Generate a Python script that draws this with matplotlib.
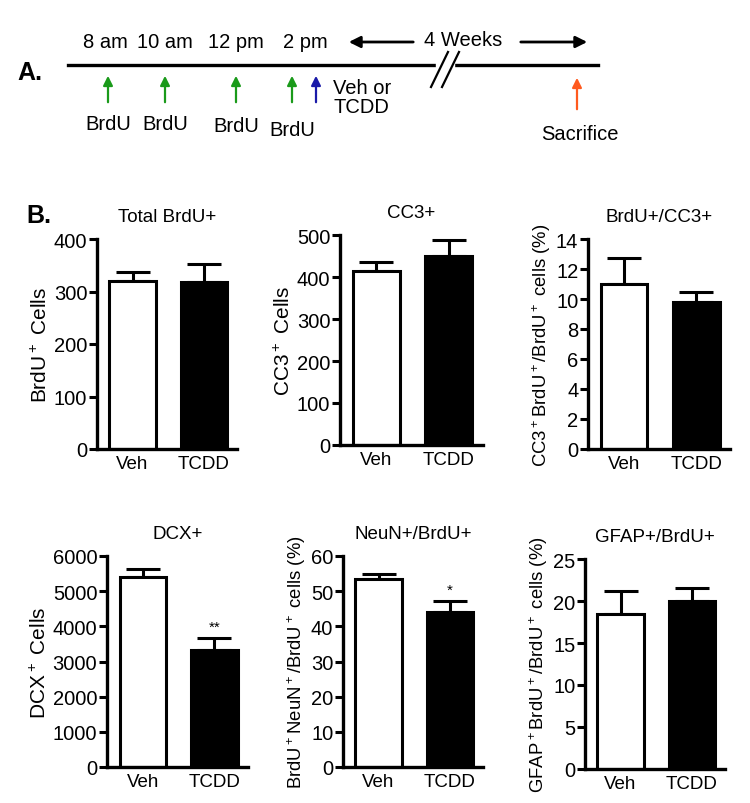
import matplotlib
matplotlib.use('Agg')
import matplotlib.pyplot as plt

plt.rcParams['font.family'] = ['Liberation Sans', 'DejaVu Sans']
plt.rcParams['mathtext.default'] = 'regular'

W, H = 750, 804

# ---- data ----
groups = ['Veh', 'TCDD']

titles = ['Total BrdU+', 'CC3+', 'BrdU+/CC3+', 'DCX+', 'NeuN+/BrdU+', 'GFAP+/BrdU+']
ylabels = [r'BrdU$^+$ Cells',
           r'CC3$^+$ Cells',
           r'CC3$^+$BrdU$^+$/BrdU$^+$ cells (%)',
           r'DCX$^+$ Cells',
           r'BrdU$^+$NeuN$^+$/BrdU$^+$ cells (%)',
           r'GFAP$^+$BrdU$^+$/BrdU$^+$ cells (%)']
means = [[320, 319], [414, 450], [11.0, 9.8], [5400, 3320], [53.5, 44.0], [18.4, 20.0]]
sems = [[18, 34], [22, 38], [1.75, 0.65], [230, 340], [1.5, 3.2], [2.8, 1.6]]
ymax = [400, 500, 14, 6000, 60, 25]
ystep = [100, 100, 2, 1000, 10, 5]
stars = [['', ''], ['', ''], ['', ''], ['', '**'], ['', '*'], ['', '']]

# timeline schematic
times = ['8 am', '10 am', '12 pm', '2 pm']
brdu_x = [108, 165, 236, 292]

# axes boxes in pixels: left, top(ymax), right, bottom(0)
boxes = [(97, 240, 237, 450), (340, 236, 483, 446), (588, 240, 730, 450),
         (107, 557, 248, 768), (343, 557, 483, 768), (585, 560, 725, 770)]

fig = plt.figure(figsize=(W / 100, H / 100), dpi=100)

# ---- panel A ----
ax0 = fig.add_axes([0, 0, 1, 1])
ax0.set_xlim(0, W)
ax0.set_ylim(H, 0)
ax0.axis('off')

ax0.text(17, 73, 'A.', fontsize=18, fontweight='bold', va='center')
ax0.plot([68, 598], [66, 66], color='black', lw=2.4)
for x, t in zip([105, 165, 236, 305], times):
    ax0.text(x, 43, t, fontsize=14.5, ha='center', va='center')
ax0.annotate('', xy=(346, 43), xytext=(416, 43),
             arrowprops=dict(arrowstyle='-|>', color='black', lw=2, mutation_scale=17))
ax0.text(463, 41, '4 Weeks', fontsize=14.5, ha='center', va='center')
ax0.annotate('', xy=(590, 43), xytext=(518, 43),
             arrowprops=dict(arrowstyle='-|>', color='black', lw=2, mutation_scale=17))
# break marks
ax0.fill_between([436, 454], [66 - 3, 66 - 3], [66 + 3, 66 + 3], color='white', zorder=3)
ax0.plot([431, 448], [88, 53], color='black', lw=1.6, zorder=4)
ax0.plot([442, 459], [88, 53], color='black', lw=1.6, zorder=4)

for x, ty in zip(brdu_x, [125, 125, 127, 131]):
    ax0.annotate('', xy=(x, 74), xytext=(x, 106),
                 arrowprops=dict(arrowstyle='-|>', color='#1a9a1a', lw=1.6, mutation_scale=14))
    ax0.text(x, ty, 'BrdU', fontsize=14.5, ha='center', va='center')
ax0.annotate('', xy=(316, 74), xytext=(316, 106),
             arrowprops=dict(arrowstyle='-|>', color='#1a1aa8', lw=1.6, mutation_scale=14))
ax0.text(333, 98, 'Veh or\nTCDD', fontsize=14.5, ha='left', va='center', linespacing=1.05)
ax0.annotate('', xy=(577, 76), xytext=(577, 113),
             arrowprops=dict(arrowstyle='-|>', color='#ff5a1e', lw=1.6, mutation_scale=14))
ax0.text(580, 135, 'Sacrifice', fontsize=14.5, ha='center', va='center')

ax0.text(26, 216, 'B.', fontsize=18, fontweight='bold', va='center')

# ---- panel B bar charts ----
for i in range(6):
    l, t, r, b = boxes[i]
    ax = fig.add_axes([l / W, 1 - b / H, (r - l) / W, (b - t) / H])
    ax.bar([0, 1], means[i], width=0.65, color=['white', 'black'],
           edgecolor='black', linewidth=2.2, zorder=2)
    for j in range(2):
        ax.errorbar(j, means[i][j], yerr=[[0], [sems[i][j]]], color='black',
                    capsize=12, elinewidth=2.2, capthick=2.2, zorder=1)
        if stars[i][j]:
            ax.text(j, means[i][j] + sems[i][j] + ymax[i] * 0.02, stars[i][j],
                    ha='center', va='bottom', fontsize=11)
    ax.set_xlim(-0.5, 1.47)
    ax.set_ylim(0, ymax[i])
    ax.set_yticks(range(0, int(ymax[i]) + 1, ystep[i]))
    ax.set_xticks([0, 1])
    ax.set_xticklabels(groups, fontsize=13.5)
    ax.tick_params(axis='x', length=0, pad=4)
    ax.tick_params(axis='y', length=6, width=2.2, labelsize=14.5, pad=1)
    for s in ['top', 'right']:
        ax.spines[s].set_visible(False)
    for s in ['left', 'bottom']:
        ax.spines[s].set_linewidth(2.4)
    ax.set_title(titles[i], fontsize=13.5, pad=13)
    if 'Cells' in ylabels[i]:
        ax.set_ylabel(ylabels[i], fontsize=15, labelpad=2)
    else:
        ax.set_ylabel(ylabels[i], fontsize=13.3, labelpad=2)
    ax.patch.set_alpha(0)

fig.savefig('out.png', dpi=100)
plt.close()
